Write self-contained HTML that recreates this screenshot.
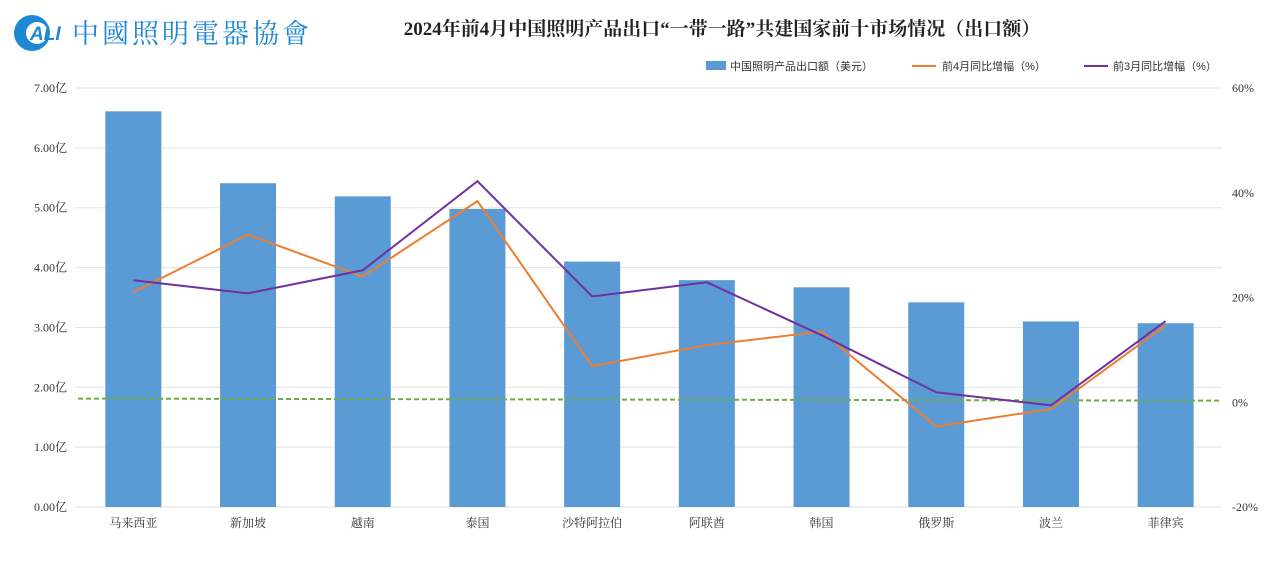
<!DOCTYPE html>
<html><head><meta charset="utf-8"><style>
body{margin:0;background:#fff;font-family:"Liberation Serif","Noto Serif CJK SC",serif;}
</style></head><body>
<svg id="c" width="1280" height="581" xmlns="http://www.w3.org/2000/svg">
<g>
<circle cx="32" cy="33" r="18" fill="#1e88d2"/><circle cx="37" cy="33" r="11" fill="#fff"/>
<text x="30" y="40" font-family="Liberation Sans,sans-serif" font-weight="bold" font-style="italic" font-size="19" fill="#1e88d2">ALI</text>
<text x="72" y="43" font-family="Noto Serif CJK SC,serif" font-size="27" fill="#1e88d2" letter-spacing="3">中國照明電器協會</text>
</g>
<text x="722" y="35" text-anchor="middle" font-size="19" font-weight="bold" fill="#222">2024年前4月中国照明产品出口“一带一路”共建国家前十市场情况（出口额）</text>
<g id="legend" font-size="11" fill="#333" font-family="Liberation Sans,Noto Sans CJK SC,sans-serif">
<rect x="706" y="61" width="20" height="9" fill="#5b9bd5"/>
<text x="730" y="70">中国照明产品出口额（美元）</text>
<line x1="912" y1="66" x2="936" y2="66" stroke="#ed7d31" stroke-width="2"/>
<text x="942" y="70">前4月同比增幅（%）</text>
<line x1="1084" y1="66" x2="1108" y2="66" stroke="#7030a0" stroke-width="2"/>
<text x="1113" y="70">前3月同比增幅（%）</text>
</g>
<g id="plot"></g>
</svg>
<script>
const categories=["马来西亚","新加坡","越南","泰国","沙特阿拉伯","阿联酋","韩国","俄罗斯","波兰","菲律宾"];
const exportValues=[6.61,5.41,5.19,4.98,4.1,3.79,3.67,3.42,3.1,3.07];
const growthApr=[21.0,32.0,24.0,38.4,6.9,10.9,13.5,-4.6,-1.3,14.7];
const growthMar=[23.3,20.8,25.2,42.2,20.2,22.9,12.8,1.9,-0.6,15.5];
const leftTicks=["0.00亿","1.00亿","2.00亿","3.00亿","4.00亿","5.00亿","6.00亿","7.00亿"];
const rightTicks=["-20%","0%","20%","40%","60%"];
const refLine=[0.7,0.3];
const NS="http://www.w3.org/2000/svg";
const g=document.getElementById('plot');
const L=75,R=1222,T=88,B=507;
const yL=v=>B-(v/7)*(B-T);
const yR=v=>B-((v+20)/80)*(B-T);
const step=(R-L)/categories.length;
const xC=i=>L+step*(i+0.5)+1;
function el(t,a,p){const e=document.createElementNS(NS,t);for(const k in a)e.setAttribute(k,a[k]);(p||g).appendChild(e);return e;}
leftTicks.forEach((t,i)=>{
 const l=el('line',{x1:L,x2:R,y1:yL(i),y2:yL(i),stroke:'#e3e3e3'});
 
 
 const tx=el('text',{x:L-8,y:yL(i)+4,'text-anchor':'end','font-size':12,fill:'#333'});tx.textContent=t;
 
 
});
rightTicks.forEach((t,i)=>{
 const v=-20+i*20;
 const tx=el('text',{x:R+10,y:yR(v)+4,'font-size':12,fill:'#333'});tx.textContent=t;
 
 
});
exportValues.forEach((v,i)=>{
 const r=el('rect',{x:xC(i)-28,width:56,y:yL(v),height:B-yL(v),fill:'#5b9bd5'});
 
 
 const tx=el('text',{x:xC(i),y:B+20,'text-anchor':'middle','font-size':12,fill:'#333'});tx.textContent=categories[i];
 
 
});
const rl=el('line',{x1:L+3,x2:R,y1:yR(refLine[0]),y2:yR(refLine[1]),stroke:'#70ad47','stroke-width':2,'stroke-dasharray':'5,3'});


function line(d,c,n){
 const p=el('polyline',{points:d.map((v,i)=>xC(i)+','+yR(v)).join(' '),fill:'none',stroke:c,'stroke-width':2});
 
 
}
line(growthApr,'#ed7d31','line-apr-growth');
line(growthMar,'#7030a0','line-mar-growth');
</script>
</body></html>
